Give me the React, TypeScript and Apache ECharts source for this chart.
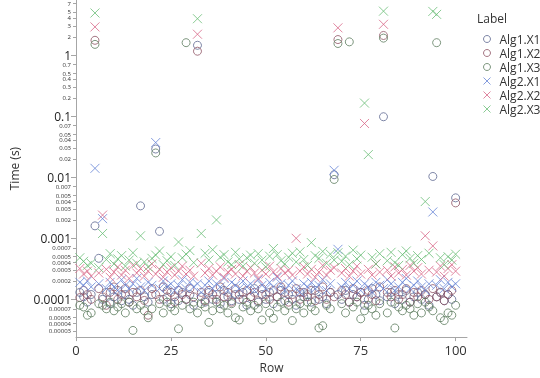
import React, { useEffect, useRef } from "react";
import * as echarts from "echarts";

const seriesNames = ["Alg1.X1", "Alg1.X2", "Alg1.X3", "Alg2.X1", "Alg2.X2", "Alg2.X3"];
const seriesColors = ["#5d6690", "#8e5464", "#5c7c5e", "#6684d6", "#d86888", "#6cbe78"];

const rows = Array.from({ length: 100 }, (_, i) => i + 1);

const alg1X1 = [1.3e-4, 1.1e-4, 9e-5, 1.2e-4, 1.6e-3, 4.7e-4, 1.0e-4, 1.3e-4, 8.5e-5, 1.1e-4,
  1.4e-4, 9.5e-5, 1.2e-4, 1.0e-4, 8e-5, 1.3e-4, 3.4e-3, 1.1e-4, 9e-5, 1.2e-4,
  2.9e-2, 1.3e-3, 1.0e-4, 1.4e-4, 8.5e-5, 1.1e-4, 9.5e-5, 1.3e-4, 1.0e-4, 1.2e-4,
  8e-5, 1.45, 1.1e-4, 9e-5, 1.3e-4, 1.0e-4, 1.2e-4, 8.5e-5, 1.4e-4, 1.1e-4,
  9.5e-5, 1.2e-4, 1.0e-4, 1.3e-4, 8e-5, 1.1e-4, 1.5e-4, 9e-5, 1.2e-4, 1.0e-4,
  1.3e-4, 8.5e-5, 1.1e-4, 1.4e-4, 9.5e-5, 1.2e-4, 1.0e-4, 8e-5, 1.3e-4, 1.1e-4,
  1.2e-4, 9e-5, 1.4e-4, 1.0e-4, 1.1e-4, 8.5e-5, 1.3e-4, 1.1e-2, 1.2e-4, 1.0e-4,
  1.4e-4, 9e-5, 1.2e-4, 1.1e-4, 1.3e-4, 8e-5, 1.0e-4, 1.5e-4, 1.2e-4, 9.5e-5,
  9.8e-2, 1.1e-4, 1.3e-4, 8.5e-5, 1.2e-4, 1.0e-4, 1.4e-4, 9e-5, 1.1e-4, 1.3e-4,
  1.0e-4, 1.2e-4, 8e-5, 1.03e-2, 1.1e-4, 1.3e-4, 9.5e-5, 1.2e-4, 1.0e-4, 4.6e-3];

const alg1X2 = [1.07e-4, 1.4e-4, 1.2e-4, 1.0e-4, 1.75, 1.5e-4, 1.1e-4, 8e-5, 1.3e-4, 1.6e-4,
  1.0e-4, 1.2e-4, 1.5e-4, 9e-5, 1.3e-4, 1.1e-4, 1.4e-4, 9.6e-5, 5.5e-5, 1.5e-4,
  1.2e-4, 1.0e-4, 1.6e-4, 1.1e-4, 1.3e-4, 9e-5, 1.4e-4, 1.2e-4, 1.0e-4, 1.5e-4,
  1.1e-4, 1.16, 1.3e-4, 9.5e-5, 1.4e-4, 1.2e-4, 1.0e-4, 1.6e-4, 1.1e-4, 1.3e-4,
  9e-5, 1.5e-4, 1.2e-4, 1.0e-4, 1.4e-4, 1.1e-4, 1.3e-4, 9.5e-5, 1.5e-4, 1.2e-4,
  1.0e-4, 1.4e-4, 1.1e-4, 1.6e-4, 1.3e-4, 9e-5, 1.2e-4, 1.5e-4, 1.0e-4, 1.3e-4,
  1.1e-4, 1.4e-4, 9.5e-5, 1.2e-4, 1.6e-4, 1.0e-4, 1.3e-4, 1.1e-4, 1.8, 1.4e-4,
  1.2e-4, 9e-5, 1.5e-4, 1.1e-4, 1.3e-4, 1.0e-4, 1.4e-4, 1.2e-4, 9.5e-5, 1.6e-4,
  2.1, 1.3e-4, 1.1e-4, 1.4e-4, 1.0e-4, 1.2e-4, 1.5e-4, 9e-5, 1.3e-4, 1.1e-4,
  1.4e-4, 1.2e-4, 1.0e-4, 1.5e-4, 1.1e-4, 1.3e-4, 9.5e-5, 1.2e-4, 1.4e-4, 3.8e-3];

const alg1X3 = [8e-5, 7.5e-5, 5.5e-5, 6e-5, 1.5, 8.5e-5, 8e-5, 7e-5, 9e-5, 6.5e-5,
  7.5e-5, 8.5e-5, 6e-5, 9e-5, 3.1e-5, 7e-5, 8e-5, 6.5e-5, 5e-5, 7e-5,
  2.5e-2, 8.5e-5, 6e-5, 9e-5, 7.5e-5, 6.5e-5, 3.3e-5, 8e-5, 1.6, 7e-5,
  9e-5, 6e-5, 8.5e-5, 7.5e-5, 4.2e-5, 6.5e-5, 9e-5, 7e-5, 8e-5, 6e-5,
  8.5e-5, 5e-5, 4.6e-5, 7.5e-5, 9e-5, 6.5e-5, 8e-5, 7e-5, 4.6e-5, 8.5e-5,
  6e-5, 4.9e-5, 7.5e-5, 9e-5, 6.5e-5, 8e-5, 4.5e-5, 7e-5, 8.5e-5, 6e-5,
  9e-5, 7.5e-5, 6.5e-5, 3.4e-5, 3.7e-5, 8e-5, 7e-5, 9.2e-3, 1.55, 8.5e-5,
  6e-5, 1.65, 7.5e-5, 9e-5, 4.8e-5, 6.5e-5, 8e-5, 7e-5, 5.5e-5, 8.5e-5,
  1.9, 6e-5, 9e-5, 3.4e-5, 7.5e-5, 6.5e-5, 8e-5, 7e-5, 5.5e-5, 8.5e-5,
  6e-5, 9e-5, 7.5e-5, 6.5e-5, 1.6, 5e-5, 4.5e-5, 6e-5, 5.5e-5, 8e-5];

const alg2X1 = [1.9e-4, 1.7e-4, 2.0e-4, 1.6e-4, 1.4e-2, 1.8e-4, 2.1e-3, 1.5e-4, 1.9e-4, 1.6e-4,
  1.4e-4, 2.1e-4, 1.7e-4, 1.5e-4, 1.8e-4, 2.2e-4, 1.6e-4, 1.4e-4, 1.9e-4, 1.7e-4,
  3.7e-2, 1.5e-4, 2.0e-4, 1.6e-4, 1.8e-4, 1.4e-4, 1.7e-4, 2.1e-4, 1.5e-4, 1.9e-4,
  1.6e-4, 1.8e-4, 1.3e-4, 1.7e-4, 2.0e-4, 1.5e-4, 1.8e-4, 1.6e-4, 2.2e-4, 1.4e-4,
  1.9e-4, 1.7e-4, 1.5e-4, 2.0e-4, 1.6e-4, 1.8e-4, 1.4e-4, 2.1e-4, 1.7e-4, 1.5e-4,
  1.9e-4, 1.6e-4, 2.3e-4, 1.8e-4, 1.4e-4, 1.7e-4, 2.0e-4, 1.5e-4, 1.3e-4, 1.8e-4,
  1.6e-4, 1.9e-4, 1.5e-4, 1.7e-4, 2.1e-4, 1.4e-4, 1.8e-4, 1.3e-2, 6.6e-4, 1.6e-4,
  1.9e-4, 1.5e-4, 1.7e-4, 2.0e-4, 1.4e-4, 1.8e-4, 1.6e-4, 1.3e-4, 1.9e-4, 1.7e-4,
  1.5e-4, 2.1e-4, 1.8e-4, 1.4e-4, 1.6e-4, 1.9e-4, 2.2e-4, 1.5e-4, 1.7e-4, 2.0e-4,
  1.6e-4, 1.4e-4, 1.8e-4, 2.7e-3, 1.7e-4, 2.1e-4, 1.5e-4, 1.9e-4, 1.6e-4, 1.8e-4];

const alg2X2 = [3.2e-4, 2.6e-4, 2.9e-4, 2.4e-4, 2.9, 2.7e-4, 2.4e-3, 3.1e-4, 2.3e-4, 2.8e-4,
  3.4e-4, 2.5e-4, 3.0e-4, 2.2e-4, 3.6e-4, 2.7e-4, 3.2e-4, 2.4e-4, 2.9e-4, 3.8e-4,
  2.6e-4, 3.1e-4, 2.3e-4, 2.8e-4, 3.3e-4, 2.5e-4, 2.9e-4, 3.5e-4, 2.6e-4, 3.0e-4,
  2.4e-4, 2.2, 3.9e-4, 2.7e-4, 3.2e-4, 2.5e-4, 2.9e-4, 3.4e-4, 2.3e-4, 2.8e-4,
  3.1e-4, 2.6e-4, 3.7e-4, 2.4e-4, 2.9e-4, 3.3e-4, 2.7e-4, 2.2e-4, 3.0e-4, 2.6e-4,
  3.5e-4, 2.8e-4, 2.4e-4, 3.2e-4, 2.7e-4, 3.0e-4, 2.5e-4, 1.0e-3, 2.9e-4, 3.4e-4,
  2.6e-4, 3.1e-4, 2.3e-4, 2.8e-4, 3.6e-4, 2.5e-4, 3.0e-4, 3.3e-4, 2.8, 2.7e-4,
  3.2e-4, 2.4e-4, 2.9e-4, 3.5e-4, 2.6e-4, 7.6e-2, 3.1e-4, 2.5e-4, 3.8e-4, 2.8e-4,
  3.2, 3.0e-4, 2.4e-4, 3.4e-4, 2.7e-4, 3.1e-4, 2.5e-4, 3.6e-4, 2.9e-4, 3.3e-4,
  2.6e-4, 1.1e-3, 3.0e-4, 7.5e-4, 2.8e-4, 3.5e-4, 2.4e-4, 3.2e-4, 3.7e-4, 2.9e-4];

const alg2X3 = [4.8e-4, 4.2e-4, 3.6e-4, 3.9e-4, 4.9, 3.3e-4, 1.2e-3, 4.5e-4, 5.6e-4, 3.8e-4,
  4.6e-4, 5.2e-4, 3.5e-4, 4.4e-4, 5.8e-4, 3.9e-4, 1.1e-3, 4.1e-4, 3.4e-4, 4.7e-4,
  5.3e-4, 6.2e-4, 3.7e-4, 4.3e-4, 5.0e-4, 3.6e-4, 8.7e-4, 4.8e-4, 5.5e-4, 6.3e-4,
  4.0e-4, 3.95, 1.2e-3, 5.7e-4, 4.4e-4, 6.5e-4, 2.0e-3, 4.9e-4, 5.4e-4, 4.1e-4,
  3.7e-4, 5.9e-4, 4.6e-4, 3.5e-4, 4.8e-4, 5.3e-4, 3.9e-4, 5.6e-4, 4.4e-4, 3.4e-4,
  5.1e-4, 6.8e-4, 5.4e-4, 4.3e-4, 3.8e-4, 4.9e-4, 5.7e-4, 4.1e-4, 6.0e-4, 4.5e-4,
  3.6e-4, 8.5e-4, 5.2e-4, 4.7e-4, 6.1e-4, 3.9e-4, 5.5e-4, 4.4e-4, 5.8e-4, 4.2e-4,
  5.1e-4, 3.7e-4, 6.4e-4, 4.6e-4, 5.3e-4, 0.164, 2.35e-2, 4.9e-4, 3.8e-4, 5.6e-4,
  5.25, 4.3e-4, 5.9e-4, 4.0e-4, 3.6e-4, 5.4e-4, 6.2e-4, 4.7e-4, 3.9e-4, 5.2e-4,
  4.5e-4, 4.0e-3, 5.7e-4, 5.2, 4.65, 4.8e-4, 3.7e-4, 5.0e-4, 4.4e-4, 5.5e-4];

const seriesValues = [alg1X1, alg1X2, alg1X3, alg2X1, alg2X2, alg2X3];
const seriesIsCircle = [true, true, true, false, false, false];

const yMajorLabels = ["0.0001", "0.001", "0.01", "0.1", "1"];
const yMinorLabels = ["0.00003", "0.00004", "0.00005", "0.00007",
  "0.0002", "0.0003", "0.0004", "0.0005", "0.0007",
  "0.002", "0.003", "0.004", "0.005", "0.007",
  "0.02", "0.03", "0.04", "0.05", "0.07",
  "0.2", "0.3", "0.4", "0.5", "0.7",
  "2", "3", "4", "5", "7"];
const xTickLabels = [0, 25, 50, 75, 100];

const yMinVal = 2.41e-5;
const yMaxVal = 8;

const FONT = "'Open Sans', 'Noto Sans', sans-serif";
const CROSS = "path://M0,0L10,10M10,0L0,10";

export default function App() {
  const ref = useRef<HTMLDivElement>(null);
  useEffect(() => {
    if (!ref.current) return;
    const chart = echarts.init(ref.current, undefined, { renderer: "svg" });
    const key = (v: number) => v.toFixed(5);
    const labelMap: Record<string, string> = {};
    [...yMajorLabels, ...yMinorLabels].forEach((s) => {
      labelMap[key(Math.log10(Number(s)))] = s;
    });
    const fmt = (v: number) => labelMap[key(v)] ?? "";
    const majorVals = yMajorLabels.map((s) => Math.log10(Number(s)));
    const minorVals = yMinorLabels.map((s) => Math.log10(Number(s)));
    const yMin = Math.log10(yMinVal);
    const yMax = Math.log10(yMaxVal);
    const axisGray = "#a6a6a6";

    const series = seriesNames.map((name, si) => ({
      name,
      type: "scatter",
      xAxisIndex: 0,
      yAxisIndex: 0,
      symbol: seriesIsCircle[si] ? "circle" : CROSS,
      symbolSize: seriesIsCircle[si] ? 8 : 9,
      itemStyle: {
        color: "rgba(0,0,0,0)",
        borderColor: seriesColors[si],
        borderWidth: 1,
      },
      emphasis: { disabled: true },
      data: seriesValues[si].map((v, i) => [rows[i], Math.log10(v)]),
    }));

    chart.setOption({
      animation: false,
      textStyle: { fontFamily: FONT },
      title: {
        text: "Label",
        left: 472,
        top: 7,
        textStyle: { fontSize: 12, fontWeight: "normal", color: "#333", fontFamily: FONT },
      },
      legend: {
        orient: "vertical",
        left: 478,
        top: 27,
        itemWidth: 7,
        itemHeight: 7,
        itemGap: 0,
        itemStyle: { borderWidth: 1 },
        textStyle: { fontSize: 12, color: "#333", lineHeight: 14, padding: [0, 0, 0, 4], fontFamily: FONT },
        data: seriesNames,
      },
      grid: { left: 76, right: 73, top: 0, bottom: 35 },
      xAxis: {
        type: "value",
        min: 0,
        max: 103,
        name: "Row",
        nameLocation: "middle",
        nameGap: 23,
        nameTextStyle: { fontSize: 12, color: "#333", fontFamily: FONT },
        axisLine: { show: true, onZero: false, lineStyle: { color: axisGray } },
        axisTick: { show: true, length: 4, lineStyle: { color: axisGray }, customValues: xTickLabels },
        axisLabel: { fontSize: 13, color: "#333", margin: 6, customValues: xTickLabels, fontFamily: FONT },
        splitLine: { show: false },
      },
      yAxis: [
        {
          type: "value",
          min: yMin,
          max: yMax,
          name: "Time (s)",
          nameLocation: "middle",
          nameGap: 56,
          nameTextStyle: { fontSize: 12, color: "#333", fontFamily: FONT },
          axisLine: { show: true, onZero: false, lineStyle: { color: axisGray } },
          axisTick: { show: true, length: 5, lineStyle: { color: axisGray }, customValues: majorVals },
          axisLabel: { fontSize: 12, lineHeight: 10, color: "#222", margin: 5, customValues: majorVals, formatter: fmt, fontFamily: FONT },
          splitLine: { show: false },
        },
        {
          type: "value",
          position: "left",
          min: yMin,
          max: yMax,
          axisLine: { show: false, onZero: false },
          axisTick: { show: true, length: 3, lineStyle: { color: axisGray }, customValues: minorVals },
          axisLabel: { fontSize: 6, lineHeight: 5, color: "#333", margin: 5, customValues: minorVals, formatter: fmt, fontFamily: FONT },
          splitLine: { show: false },
        },
      ],
      series,
    });
    return () => chart.dispose();
  }, []);
  return <div ref={ref} style={{ position: "fixed", left: 0, top: 0, width: 540, height: 378 }} />;
}
